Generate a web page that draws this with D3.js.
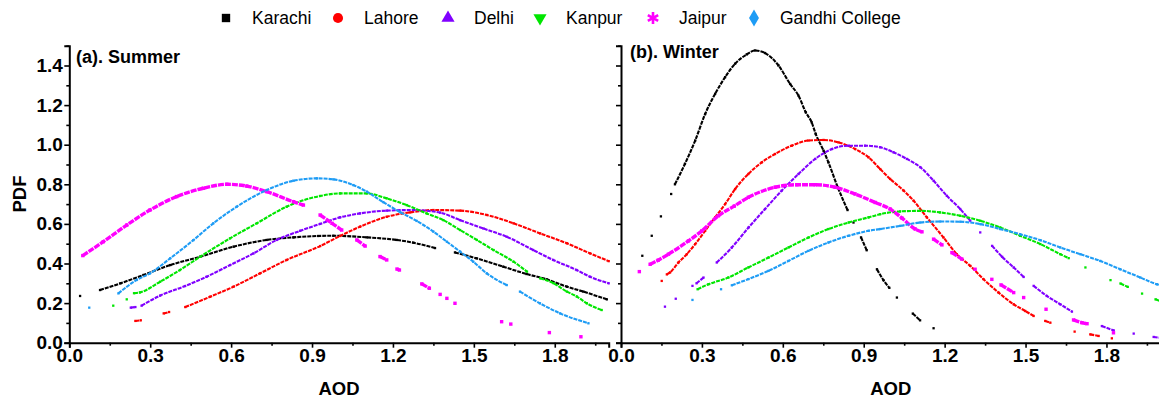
<!DOCTYPE html>
<html>
<head>
<meta charset="utf-8">
<script src="https://cdn.jsdelivr.net/npm/d3@7"></script>
<style>
  body { margin: 0; background: #fff; }
  svg { display: block; font-family: "Liberation Sans", Arial, Helvetica, sans-serif; }
</style>
</head>
<body>
<svg width="1159" height="404"></svg>
<script>
// sites, legend order
const sites = ["Karachi", "Lahore", "Delhi", "Kanpur", "Jaipur", "Gandhi College"];
const siteColors = ["#000000", "#ff0000", "#8000ff", "#00e600", "#ff00ff", "#1e9cf5"];
const siteSymbols = [d3.symbolSquare, d3.symbolCircle, d3.symbolTriangle, d3.symbolTriangle, d3.symbolAsterisk, d3.symbolDiamond];

// [AOD, PDF] pairs, null = gap in the dots
const summerKarachi = [[0.04,0.236], null, [0.114,0.266],[0.19,0.30],[0.275,0.342],[0.374,0.392],[0.485,0.434],[0.609,0.485],[0.732,0.519],[0.831,0.532],[0.923,0.539],[0.979,0.54],[1.103,0.532],[1.214,0.519],[1.276,0.505],[1.356,0.478], null, [1.43,0.456],[1.51,0.426],[1.609,0.384],[1.695,0.347],[1.77,0.32],[1.845,0.283],[1.906,0.258],[1.993,0.219]];
const summerLahore = [[0.245,0.11],[0.265,0.113], null, [0.35,0.148],[0.37,0.155], null, [0.43,0.18],[0.522,0.232],[0.609,0.283],[0.707,0.35],[0.806,0.418],[0.93,0.488],[1.004,0.539],[1.078,0.586],[1.177,0.636],[1.263,0.658],[1.35,0.67],[1.449,0.667],[1.548,0.645],[1.647,0.603],[1.746,0.552],[1.845,0.502],[1.931,0.451],[2.0,0.412]];
const summerDelhi = [[0.228,0.177],[0.245,0.18], null, [0.268,0.187],[0.337,0.238],[0.429,0.286],[0.509,0.333],[0.596,0.392],[0.683,0.451],[0.769,0.519],[0.856,0.565],[0.93,0.60],[1.004,0.633],[1.078,0.653],[1.177,0.667],[1.276,0.67],[1.375,0.657],[1.449,0.619],[1.535,0.577],[1.622,0.535],[1.72,0.468],[1.794,0.418],[1.881,0.367],[1.931,0.333],[2.0,0.30]];
const summerKanpur = [[0.163,0.187], null, [0.213,0.219], null, [0.24,0.25],[0.262,0.254],[0.337,0.308],[0.41,0.367],[0.485,0.434],[0.596,0.527],[0.695,0.603],[0.806,0.687],[0.93,0.741],[1.004,0.754],[1.103,0.754],[1.177,0.729],[1.251,0.695],[1.325,0.653],[1.387,0.619],[1.449,0.569],[1.511,0.519],[1.573,0.468],[1.647,0.409],[1.697,0.359], null, [1.746,0.325],[1.796,0.30],[1.845,0.258],[1.882,0.233],[1.919,0.199],[1.974,0.165]];
const summerJaipur = [[0.05,0.44],[0.126,0.51],[0.213,0.594],[0.299,0.67],[0.398,0.738],[0.497,0.78],[0.584,0.80],[0.658,0.791],[0.732,0.763],[0.831,0.712],[0.868,0.695], null, [0.93,0.645],[0.974,0.603],[1.01,0.569], null, [1.066,0.519],[1.097,0.488], null, [1.152,0.435],[1.177,0.418], null, [1.215,0.372],[1.224,0.367], null, [1.307,0.297],[1.335,0.275], null, [1.375,0.244], null, [1.4,0.224], null, [1.43,0.199], null, [1.603,0.106], null, [1.637,0.094], null, [1.78,0.051], null, [1.897,0.03]];
const summerGandhi = [[0.074,0.177], null, [0.182,0.249],[0.25,0.317],[0.299,0.35],[0.374,0.426],[0.46,0.518],[0.534,0.603],[0.621,0.687],[0.732,0.771],[0.831,0.818],[0.918,0.83],[0.979,0.825],[1.053,0.796],[1.103,0.763],[1.164,0.71],[1.226,0.66],[1.288,0.615],[1.35,0.561],[1.4,0.51],[1.449,0.46],[1.498,0.409],[1.548,0.35],[1.622,0.291], null, [1.671,0.258],[1.745,0.199],[1.82,0.148],[1.925,0.098]];

const winterKarachi = [[0.079,0.439], null, [0.114,0.54], null, [0.148,0.638], null, [0.186,0.751], null, [0.2,0.80],[0.237,0.903],[0.275,1.021],[0.312,1.155],[0.349,1.257],[0.386,1.341],[0.423,1.409],[0.466,1.456],[0.497,1.476],[0.534,1.463],[0.584,1.40],[0.627,1.307],[0.658,1.248],[0.685,1.164],[0.707,1.113],[0.722,1.054],[0.751,0.97],[0.769,0.911],[0.804,0.784],[0.84,0.67], null, [0.862,0.607], null, [0.89,0.532],[0.911,0.467], null, [0.949,0.371],[0.973,0.316],[0.995,0.277], null, [1.023,0.228], null, [1.082,0.147],[1.109,0.113], null, [1.159,0.073]];
const winterLahore = [[0.151,0.312], null, [0.17,0.345],[0.182,0.355],[0.213,0.405],[0.244,0.447],[0.275,0.498],[0.312,0.565],[0.349,0.633],[0.386,0.70],[0.423,0.776],[0.472,0.852],[0.522,0.911],[0.571,0.953],[0.633,0.995],[0.695,1.021],[0.751,1.024],[0.806,1.012],[0.868,0.978],[0.918,0.936],[0.961,0.877],[0.998,0.827],[1.048,0.768],[1.085,0.717],[1.134,0.633],[1.196,0.531],[1.245,0.447],[1.295,0.388],[1.344,0.321],[1.40,0.253],[1.456,0.194],[1.499,0.16],[1.53,0.135], null, [1.573,0.11],[1.592,0.101], null, [1.682,0.056], null, [1.74,0.042],[1.771,0.034], null, [1.82,0.022]];
const winterDelhi = [[0.163,0.182], null, [0.203,0.222], null, [0.265,0.287], null, [0.28,0.30],[0.306,0.329], null, [0.355,0.405],[0.411,0.481],[0.473,0.582],[0.534,0.675],[0.596,0.768],[0.658,0.852],[0.72,0.928],[0.782,0.978],[0.844,0.995],[0.905,0.995],[0.961,0.987],[1.01,0.962],[1.06,0.928],[1.11,0.886],[1.159,0.818],[1.208,0.742],[1.258,0.675],[1.295,0.616], null, [1.332,0.557], null, [1.376,0.489],[1.413,0.434],[1.456,0.38],[1.493,0.332], null, [1.53,0.287],[1.579,0.236],[1.629,0.194],[1.672,0.157], null, [1.783,0.084],[1.827,0.062], null, [1.901,0.046], null, [1.975,0.029],[2.0,0.025]];
const winterKanpur = [[0.284,0.27],[0.324,0.295],[0.398,0.329],[0.472,0.38],[0.547,0.43],[0.621,0.481],[0.695,0.531],[0.769,0.574],[0.844,0.607],[0.918,0.633],[0.961,0.649],[1.035,0.663],[1.109,0.666],[1.183,0.658],[1.258,0.641],[1.332,0.616],[1.406,0.582],[1.48,0.54],[1.555,0.498],[1.629,0.447],[1.66,0.427], null, [1.722,0.38], null, [1.815,0.316], null, [1.852,0.299],[1.879,0.282], null, [1.932,0.248], null, [1.982,0.219],[2.0,0.21]];
const winterJaipur = [[0.068,0.359], null, [0.108,0.396],[0.138,0.417],[0.176,0.447],[0.25,0.514],[0.30,0.565],[0.361,0.641],[0.42,0.69],[0.472,0.734],[0.571,0.785],[0.652,0.798],[0.72,0.798],[0.794,0.785],[0.868,0.751],[0.943,0.708],[0.998,0.675],[1.042,0.629],[1.091,0.574],[1.116,0.56], null, [1.159,0.523],[1.19,0.494], null, [1.227,0.455],[1.264,0.422], null, [1.313,0.371], null, [1.375,0.32], null, [1.409,0.292],[1.456,0.253], null, [1.493,0.228], null, [1.576,0.169], null, [1.678,0.115],[1.709,0.101],[1.728,0.096], null, [1.826,0.05]];
const winterGandhi = [[0.265,0.216], null, [0.371,0.27], null, [0.411,0.29],[0.472,0.321],[0.547,0.363],[0.621,0.413],[0.695,0.464],[0.769,0.506],[0.844,0.54],[0.918,0.565],[0.961,0.574],[1.035,0.59],[1.109,0.607],[1.183,0.612],[1.258,0.611],[1.332,0.599],[1.406,0.574],[1.48,0.548],[1.555,0.518],[1.629,0.481],[1.703,0.447],[1.777,0.413],[1.851,0.371],[1.926,0.329],[1.987,0.295],[2.0,0.29]];

const summer = [summerKarachi, summerLahore, summerDelhi, summerKanpur, summerJaipur, summerGandhi];
const winter = [winterKarachi, winterLahore, winterDelhi, winterKanpur, winterJaipur, winterGandhi];

// ticks
const xTicks = d3.range(14).map(i => +(i * 0.15).toFixed(2));   // 0 .. 1.95, labels every 0.3
const yTicks = d3.range(16).map(i => +(i * 0.1).toFixed(1));    // 0 .. 1.5, labels every 0.2

var svg = d3.select("svg");
var fmt = d3.format(".1f");

var panels = [
  {title: "(a). Summer", data: summer, left: 69.3, titleX: 76, titleY: 57, yLabels: true},
  {title: "(b). Winter", data: winter, left: 621, titleX: 630, titleY: 52, yLabels: false}
];

var plotBottom = 342.7, unitX = 269.7, unitY = 198;

panels.forEach(p => {
  var x = d3.scaleLinear().domain([0, 2]).range([p.left, p.left + 2 * unitX]);
  var y = d3.scaleLinear().domain([0, 1.5]).range([plotBottom, plotBottom - 1.5 * unitY]);
  var g = svg.append("g");

  // curves (dotted look)
  var line = d3.line()
    .defined(d => d !== null)
    .x(d => x(d[0]))
    .y(d => y(d[1]))
    .curve(d3.curveMonotoneX);

  p.data.forEach((s, i) => {
    var big = sites[i] === "Jaipur";
    g.append("path")
      .attr("d", line(s))
      .attr("fill", "none")
      .attr("stroke", siteColors[i])
      .attr("stroke-width", big ? 3.4 : 2.1)
      .attr("stroke-dasharray", big ? "6,1" : "4,1");
    var sz = big ? 3.4 : 2.3;
    g.append("g").selectAll("rect")
      .data(s.filter(d => d !== null))
      .enter().append("rect")
      .attr("x", d => x(d[0]) - sz / 2)
      .attr("y", d => y(d[1]) - sz / 2)
      .attr("width", sz)
      .attr("height", sz)
      .attr("fill", siteColors[i]);
  });

  // x axis
  var xAxis = g.append("g")
    .attr("transform", `translate(0,${plotBottom})`)
    .call(d3.axisBottom(x).tickValues(xTicks).tickSizeOuter(0).tickSize(5).tickPadding(1)
      .tickFormat((d, i) => (i % 2 || d > 1.85) ? "" : fmt(d)));
  xAxis.selectAll(".tick line").attr("y2", (d, i) => i % 2 ? 3 : 5).attr("stroke-width", 1.6);

  // y axis
  var yAxis = g.append("g")
    .attr("transform", `translate(${p.left},0)`)
    .call(d3.axisLeft(y).tickValues(yTicks).tickSizeOuter(0).tickSize(5).tickPadding(1.5)
      .tickFormat((d, i) => (!p.yLabels || i % 2) ? "" : fmt(d)));
  yAxis.selectAll(".tick line").attr("x2", (d, i) => i % 2 ? -3 : -5).attr("stroke-width", 1.6);

  [xAxis, yAxis].forEach(a => {
    a.select(".domain").attr("stroke-width", 2);
    a.selectAll("text")
      .attr("font-family", null)
      .attr("font-size", 19)
      .attr("font-weight", "bold")
      .attr("fill", "#000");
  });

  g.append("text")
    .attr("x", (x.range()[0] + x.range()[1]) / 2)
    .attr("y", 395)
    .attr("text-anchor", "middle")
    .attr("font-size", 18.5)
    .attr("font-weight", "bold")
    .text("AOD");

  g.append("text")
    .attr("x", p.titleX)
    .attr("y", p.titleY)
    .attr("dominant-baseline", "central")
    .attr("font-size", 18)
    .attr("font-weight", "bold")
    .text(p.title);
});

svg.append("text")
  .attr("transform", "translate(19,194) rotate(-90)")
  .attr("text-anchor", "middle")
  .attr("dominant-baseline", "central")
  .attr("font-size", 18.5)
  .attr("font-weight", "bold")
  .text("PDF");

// legend
var legendMarkX = [226, 338, 448, 540, 653, 754];
var legend = svg.append("g");
sites.forEach((s, i) => {
  var rot = i === 3 ? 180 : 0;
  var size = [70, 80, 75, 75, 100, 85][i];
  legend.append("path")
    .attr("d", d3.symbol(siteSymbols[i], size)())
    .attr("transform", `translate(${legendMarkX[i]},18) rotate(${rot})`)
    .attr("fill", i === 4 ? "none" : siteColors[i])
    .attr("stroke", i === 4 ? siteColors[i] : "none")
    .attr("stroke-width", 2.6);
  legend.append("text")
    .attr("x", legendMarkX[i] + 26)
    .attr("y", 18)
    .attr("dominant-baseline", "central")
    .attr("font-size", 17.5)
    .text(s);
});
</script>
</body>
</html>
